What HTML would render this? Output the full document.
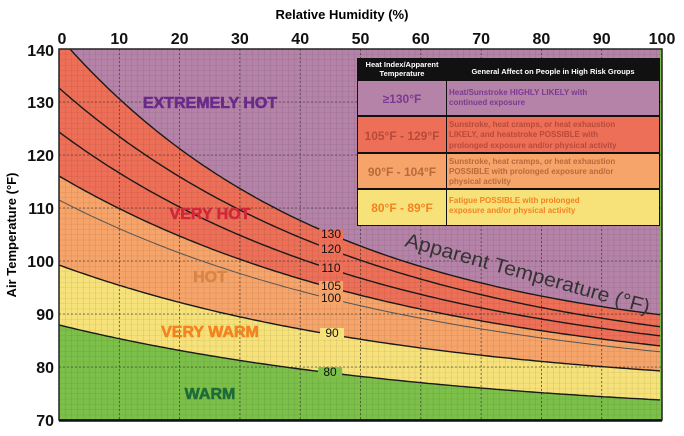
<!DOCTYPE html>
<html><head><meta charset="utf-8"><style>
body{margin:0;background:#fff;}
svg text{font-family:"Liberation Sans",sans-serif;}
</style></head><body>
<svg id="s" width="684" height="431" viewBox="0 0 684 431" xmlns="http://www.w3.org/2000/svg">
<defs>
<pattern id="g" x="59" y="49" width="6.03" height="5.3" patternUnits="userSpaceOnUse">
<path d="M0 0V5.3M0 0H6.03" stroke="#000" stroke-opacity="0.22" stroke-width="0.6" fill="none"/>
</pattern>
<clipPath id="c"><rect x="59" y="49" width="603" height="371"/></clipPath>
</defs>
<g id="fills" clip-path="url(#c)"></g>
<rect x="59" y="49" width="603" height="371" fill="url(#g)"/>
<g id="major" stroke="#333" stroke-width="0.8" stroke-dasharray="2,2" opacity="0.8"></g>
<g id="lines" clip-path="url(#c)" fill="none" stroke="#1a1a1a" stroke-width="1.4"></g>
<rect x="59" y="49" width="603" height="371" fill="none" stroke="#222" stroke-width="1.5"/>
<line x1="59" y1="420.5" x2="662" y2="420.5" stroke="#111" stroke-width="2.5"/>
<g id="ticks" font-weight="bold" font-size="16" fill="#111"></g>
<text x="342" y="19" text-anchor="middle" font-size="13" font-weight="bold">Relative Humidity (%)</text>
<text transform="translate(16,235) rotate(-90)" text-anchor="middle" font-size="13" font-weight="bold">Air Temperature (°F)</text>
<g font-weight="bold" font-size="16" text-anchor="middle" stroke-width="0.6">
<text x="210" y="108" fill="#6a2a8a" stroke="#6a2a8a">EXTREMELY HOT</text>
<text x="210" y="219" fill="#d0283a" stroke="#d0283a">VERY HOT</text>
<text x="210" y="282" fill="#d98545" stroke="#d98545">HOT</text>
<text x="210" y="337" fill="#f58220" stroke="#f58220">VERY WARM</text>
<text x="210" y="399" fill="#1e6b3a" stroke="#1e6b3a">WARM</text>
</g>
<g id="clabbg"></g>
<g font-size="12" fill="#111" text-anchor="middle" id="clab"></g>
<text transform="translate(404,246) rotate(15.5)" font-size="20" fill="#333" textLength="253" lengthAdjust="spacingAndGlyphs">Apparent Temperature (°F)</text>
<g>
<rect x="357" y="58" width="303" height="168" fill="#111"/>
<rect x="358" y="81" width="88" height="34" fill="#b583a8"/><rect x="447" y="81" width="212" height="34" fill="#b583a8"/>
<rect x="358" y="117" width="88" height="35" fill="#ee6f57"/><rect x="447" y="117" width="212" height="35" fill="#ee6f57"/>
<rect x="358" y="154" width="88" height="34" fill="#f6a46a"/><rect x="447" y="154" width="212" height="34" fill="#f6a46a"/>
<rect x="358" y="190" width="88" height="35" fill="#f7e27a"/><rect x="447" y="190" width="212" height="35" fill="#f7e27a"/>
<g fill="#fff" font-size="7.5" font-weight="bold" text-anchor="middle">
<text x="402" y="67">Heat Index/Apparent</text><text x="402" y="76">Temperature</text>
<text x="553" y="74">General Affect on People in High Risk Groups</text>
</g>
<g font-weight="bold" font-size="12" text-anchor="middle">
<text x="402" y="103" fill="#7a3a90">≥130°F</text>
<text x="402" y="140" fill="#b84a3a">105°F - 129°F</text>
<text x="402" y="176" fill="#b86a3a">90°F - 104°F</text>
<text x="402" y="212" fill="#f58220">80°F - 89°F</text>
</g>
<g font-weight="bold" font-size="8">
<text x="449" y="95" fill="#7a3a90">Heat/Sunstroke HIGHLY LIKELY with</text><text x="449" y="105" fill="#7a3a90">continued exposure</text>
<text x="449" y="127" fill="#b84a3a">Sunstroke, heat cramps, or heat exhaustion</text><text x="449" y="137" fill="#b84a3a">LIKELY, and heatstroke POSSIBLE with</text><text x="449" y="148" fill="#b84a3a">prolonged exposure and/or physical activity</text>
<text x="449" y="164" fill="#b86a3a">Sunstroke, heat cramps, or heat exhaustion</text><text x="449" y="174" fill="#b86a3a">POSSIBLE with prolonged exposure and/or</text><text x="449" y="184" fill="#b86a3a">physical activity</text>
<text x="449" y="203" fill="#f58220">Fatigue POSSIBLE with prolonged</text><text x="449" y="213" fill="#f58220">exposure and/or physical activity</text>
</g>
</g>
</svg>
<script>
var NS="http://www.w3.org/2000/svg";
function el(p,t,a,txt){var e=document.createElementNS(NS,t);for(var k in a)e.setAttribute(k,a[k]);if(txt!=null)e.textContent=txt;document.getElementById(p).appendChild(e);return e;}
function fit(p0,pm,p1){var r=(pm[1]-p0[1])/(p1[1]-p0[1]);var lo=1e-5,hi=0.05;
 for(var i=0;i<80;i++){var k=(lo+hi)/2;var v=(1-Math.exp(-k*(pm[0]-p0[0])))/(1-Math.exp(-k*(p1[0]-p0[0])));if(v<r)lo=k;else hi=k;}
 var k=(lo+hi)/2,D=(p1[1]-p0[1])/(1-Math.exp(-k*(p1[0]-p0[0])));
 return function(x){return p0[1]+D*(1-Math.exp(-k*(x-p0[0])));};}
var C={130:fit([70,49],[340,238],[662,315]),120:fit([59,88],[340,253],[662,327]),110:fit([59,132],[340,272],[662,336]),
105:fit([59,176],[340,290],[662,346]),100:fit([59,200],[340,301],[662,352]),90:fit([59,265],[340,336],[662,371]),80:fit([59,325],[340,374],[662,400])};
function pts(f){var a=[];for(var x=40;x<=662;x+=4)a.push([x,f(x)]);return a;}
function d(f){return pts(f).map(function(p,i){return (i?"L":"M")+p[0]+" "+p[1].toFixed(1);}).join("");}
function band(fTop,fBot,col){var t=pts(fTop),b=pts(fBot).reverse();var s=t.map(function(p,i){return (i?"L":"M")+p[0]+" "+p[1].toFixed(1);}).join("")+b.map(function(p){return "L"+p[0]+" "+p[1].toFixed(1);}).join("")+"Z";el("fills","path",{d:s,fill:col});}
el("fills","rect",{x:40,y:40,width:630,height:390,fill:"#7cc04a"});
band(function(){return 0;},C[130],"#b583a8");
band(C[130],C[105],"#ee6f57");
band(C[105],C[90],"#f6a46a");
band(C[90],C[80],"#f7e27a");
[130,120,110,105,100,90,80].forEach(function(k){var a={d:d(C[k])};if(k==100){a.stroke="#555";a["stroke-width"]=1;}el("lines","path",a);});
for(var i=1;i<10;i++){var x=59+i*60.3;el("major","line",{x1:x,y1:49,x2:x,y2:420});}
for(var j=1;j<7;j++){var y=49+j*53;el("major","line",{x1:59,y1:y,x2:662,y2:y});}
for(var i=0;i<=10;i++)el("ticks","text",{x:59+i*60.3+(i==0?3:0),y:44,"text-anchor":"middle"},String(i*10));
for(var j=0;j<=7;j++)el("ticks","text",{x:54,y:49+j*53+6+(j==0?1:0),"text-anchor":"end"},String(140-j*10));
var L=[[130,331,238,"#ee6f57"],[120,331,253,"#ee6f57"],[110,331,272,"#ee6f57"],[105,331,290,"#f6a46a"],[100,331,302,"#f6a46a"],[90,332,337,"#f7e27a"],[80,330,376,"#7cc04a"]];
L.forEach(function(l){el("clabbg","rect",{x:l[1]-12,y:l[2]-9,width:24,height:11,fill:l[3]});el("clab","text",{x:l[1],y:l[2]},String(l[0]));});
</script>
</body></html>
